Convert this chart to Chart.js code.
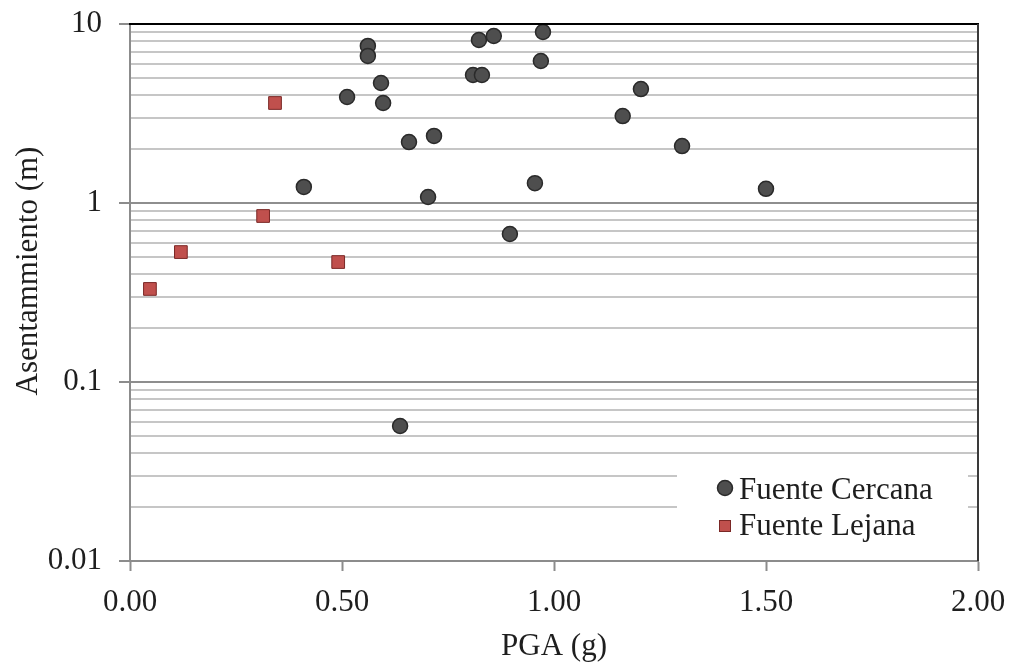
<!DOCTYPE html>
<html>
<head>
<meta charset="utf-8">
<script src="https://cdn.jsdelivr.net/npm/chart.js@4.4.1/dist/chart.umd.min.js"></script>
<style>
html,body{margin:0;padding:0;background:#fff;}
#wrap{width:1014px;height:666px;}
</style>
</head>
<body>
<div id="wrap"><canvas id="c" width="1014" height="666"></canvas></div>
<script>
// ---- data ----
const cercanaPGA = [0.561, 0.561, 0.592, 0.512, 0.597, 0.658, 0.717, 0.410, 0.703, 0.823, 0.858, 0.809, 0.830, 0.974, 0.969, 0.955, 0.896, 1.205, 1.162, 1.302, 1.500, 0.637];
const cercanaAsent = [7.54, 6.63, 4.68, 3.91, 3.62, 2.19, 2.37, 1.23, 1.08, 8.14, 8.57, 5.19, 5.19, 9.02, 6.21, 1.29, 0.671, 4.33, 3.06, 2.08, 1.20, 0.0568];
const lejanaPGA = [0.342, 0.314, 0.120, 0.047, 0.491];
const lejanaAsent = [3.62, 0.846, 0.532, 0.331, 0.468];
const xTickValues = [0, 0.5, 1.0, 1.5, 2.0];
const yDecades = [0.01, 0.1, 1, 10];
const seriesNames = ['Fuente Cercana', 'Fuente Lejana'];
const xTitle = 'PGA (g)';
const yTitle = 'Asentammiento (m)';

const FONT = '"Liberation Serif", "Times New Roman", serif';
const FS = 31;
const TXT = '#1e1e1e';

function toPoints(xs, ys){ return xs.map((x,i)=>({x:x, y:ys[i]})); }

function isDecade(v){ return yDecades.some(d => Math.abs(d - v) < 1e-9); }

const frame = {
  id:'frame',
  beforeDatasetsDraw(chart){
    const ctx = chart.ctx;
    ctx.save();
    ctx.fillStyle = '#ffffff';
    ctx.fillRect(677, 462, 291, 94);
    ctx.restore();
  },
  afterDraw(chart){
    const a = chart.chartArea, ctx = chart.ctx;
    ctx.save();
    ctx.strokeStyle = '#000000';
    ctx.lineWidth = 2;
    ctx.beginPath(); ctx.moveTo(a.left-1, a.top); ctx.lineTo(a.right+1, a.top); ctx.stroke();
    ctx.strokeStyle = '#3a3a3a';
    ctx.beginPath(); ctx.moveTo(a.right, a.top); ctx.lineTo(a.right, a.bottom); ctx.stroke();
    // y title
    ctx.fillStyle = TXT;
    ctx.font = FS + 'px ' + FONT;
    ctx.textAlign = 'center';
    ctx.textBaseline = 'middle';
    ctx.translate(29, 271);
    ctx.rotate(-Math.PI/2);
    ctx.fillText(yTitle, 0, 0);
    ctx.restore();
    // legend
    ctx.save();
    const ds = chart.data.datasets;
    ctx.font = FS + 'px ' + FONT;
    ctx.textAlign = 'left';
    ctx.textBaseline = 'alphabetic';
    ctx.beginPath(); ctx.arc(725, 488, 7.5, 0, Math.PI*2);
    ctx.fillStyle = ds[0].backgroundColor; ctx.fill();
    ctx.lineWidth = 1.5; ctx.strokeStyle = ds[0].borderColor; ctx.stroke();
    ctx.fillStyle = TXT; ctx.fillText(ds[0].label, 739, 499);
    ctx.fillStyle = ds[1].backgroundColor;
    ctx.fillRect(719, 520, 12, 12);
    ctx.lineWidth = 1; ctx.strokeStyle = ds[1].borderColor;
    ctx.strokeRect(719.5, 520.5, 11, 11);
    ctx.fillStyle = TXT; ctx.fillText(ds[1].label, 739, 535);
    ctx.restore();
  }
};

new Chart(document.getElementById('c'), {
  type: 'scatter',
  data: {
    datasets: [
      {
        label: seriesNames[0],
        data: toPoints(cercanaPGA, cercanaAsent),
        pointStyle: 'circle',
        pointRadius: 7.5,
        pointHoverRadius: 7.5,
        backgroundColor: '#4e4e4e',
        borderColor: '#2a2a2a',
        borderWidth: 1.5
      },
      {
        label: seriesNames[1],
        data: toPoints(lejanaPGA, lejanaAsent),
        pointStyle: 'rect',
        pointRadius: 9,
        pointHoverRadius: 9,
        backgroundColor: '#c0504d',
        borderColor: '#7a2826',
        borderWidth: 1
      }
    ]
  },
  options: {
    responsive: false,
    animation: false,
    events: [],
    layout: { padding: { top: 24, right: 36, left: 0, bottom: 0 } },
    plugins: { legend: { display: false }, tooltip: { enabled: false } },
    scales: {
      x: {
        type: 'linear',
        min: 0, max: 2,
        afterBuildTicks(scale){ scale.ticks = xTickValues.map(v => ({value: v})); },
        afterFit(scale){ scale.height = 105; scale.paddingLeft = 0; scale.paddingRight = 0; },
        grid: { drawOnChartArea: false, drawTicks: true, tickLength: 10, tickColor: '#8c8c8c', tickWidth: 2 },
        border: { display: true, color: '#8c8c8c', width: 2 },
        ticks: {
          color: TXT, padding: 13, maxRotation: 0, autoSkip: false,
          font: { family: FONT, size: FS },
          callback: v => Number(v).toFixed(2)
        },
        title: { display: true, text: xTitle, color: TXT, font: { family: FONT, size: FS }, padding: { top: 0, bottom: 1 } }
      },
      y: {
        type: 'logarithmic',
        min: 0.01, max: 10,
        afterBuildTicks(scale){
          const t = [];
          for (let e = -2; e <= 0; e++) {
            for (let m = 1; m <= 9; m++) t.push(parseFloat((m * Math.pow(10, e)).toPrecision(3)));
          }
          t.push(10);
          scale.ticks = t.map(v => ({value: v}));
        },
        afterFit(scale){ scale.width = 130; scale.paddingTop = 0; scale.paddingBottom = 0; },
        grid: {
          drawOnChartArea: true, drawTicks: true, tickLength: 11,
          color: ctx => (ctx.tick && isDecade(ctx.tick.value)) ? '#8e8e8e' : '#c6c6c6',
          tickColor: ctx => (ctx.tick && isDecade(ctx.tick.value)) ? '#8c8c8c' : 'rgba(0,0,0,0)',
          lineWidth: 2, tickWidth: 2
        },
        border: { display: true, color: '#8c8c8c', width: 2 },
        ticks: {
          color: TXT, padding: 17, autoSkip: false,
          font: { family: FONT, size: FS },
          callback: v => isDecade(v) ? String(v) : ''
        },
        title: { display: false }
      }
    }
  },
  plugins: [frame]
});
</script>
</body>
</html>
